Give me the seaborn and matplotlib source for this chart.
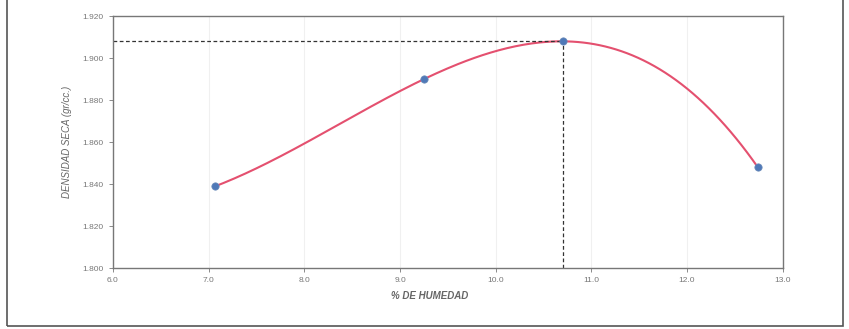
import numpy as np
import pandas as pd
import matplotlib
matplotlib.use("Agg")
import matplotlib.pyplot as plt
import seaborn as sns
from matplotlib.patches import Rectangle

# Proctor data
humedad = [7.07, 9.25, 10.70, 12.74]
densidad = [1.839, 1.890, 1.908, 1.848]
opt_humedad = 10.70
max_densidad = 1.908

x_ticks = [6.0, 7.0, 8.0, 9.0, 10.0, 11.0, 12.0, 13.0]
y_ticks = [1.800, 1.820, 1.840, 1.860, 1.880, 1.900, 1.920]

sns.set_style("white")
plt.rcParams['font.family'] = ['Liberation Sans', 'DejaVu Sans']

df = pd.DataFrame({"humedad": humedad, "densidad": densidad})

# smooth curve from a cubic fit of the points
coef = np.polyfit(df["humedad"], df["densidad"], 3)
xs = np.linspace(min(humedad), max(humedad), 200)
curve = pd.DataFrame({"humedad": xs, "densidad": np.polyval(coef, xs)})

fig = plt.figure(figsize=(8.49, 3.29), dpi=100)
ax = fig.add_axes([0.133, 0.185, 0.789, 0.766])

ax.grid(axis="x", color="#f0f0f0", linewidth=0.8)
ax.set_axisbelow(True)

sns.lineplot(data=curve, x="humedad", y="densidad", ax=ax, color="#e4506f", linewidth=1.5)
sns.scatterplot(data=df, x="humedad", y="densidad", ax=ax, color="#4f79b8", s=28,
                edgecolor="#6a8ab8", linewidth=0.5, zorder=5)

ax.plot([x_ticks[0], opt_humedad], [max_densidad, max_densidad], color="#333333",
        linestyle=(0, (3, 2)), linewidth=0.9)
ax.plot([opt_humedad, opt_humedad], [y_ticks[0], max_densidad], color="#333333",
        linestyle=(0, (3, 2)), linewidth=0.9)

ax.set_xlim(x_ticks[0], x_ticks[-1])
ax.set_ylim(y_ticks[0], y_ticks[-1])
ax.set_xticks(x_ticks)
ax.set_xticklabels([f"{v:.1f}" for v in x_ticks])
ax.set_yticks(y_ticks)
ax.set_yticklabels([f"{v:.3f}" for v in y_ticks])
ax.tick_params(axis="both", labelsize=6, colors="#777777", length=3, width=0.6,
               direction="out", bottom=True, left=True)

for side in ["left", "bottom", "right", "top"]:
    ax.spines[side].set_color("#777777")
    ax.spines[side].set_linewidth(1.0)

ax.set_xlabel("% DE HUMEDAD", fontsize=7, fontstyle="italic", fontweight="bold",
              color="#666666", labelpad=6)
ax.xaxis.set_label_coords(0.473, -0.09)
ax.set_ylabel("DENSIDAD SECA (gr/cc.)", fontsize=7, fontstyle="italic",
              color="#666666", labelpad=8)

# outer frame
fig.patches.append(Rectangle((7 / 849, 3 / 329), 836 / 849, 1.1, transform=fig.transFigure,
                             fill=False, edgecolor="#555555", linewidth=1.2))

fig.savefig("out.png", dpi=100)
